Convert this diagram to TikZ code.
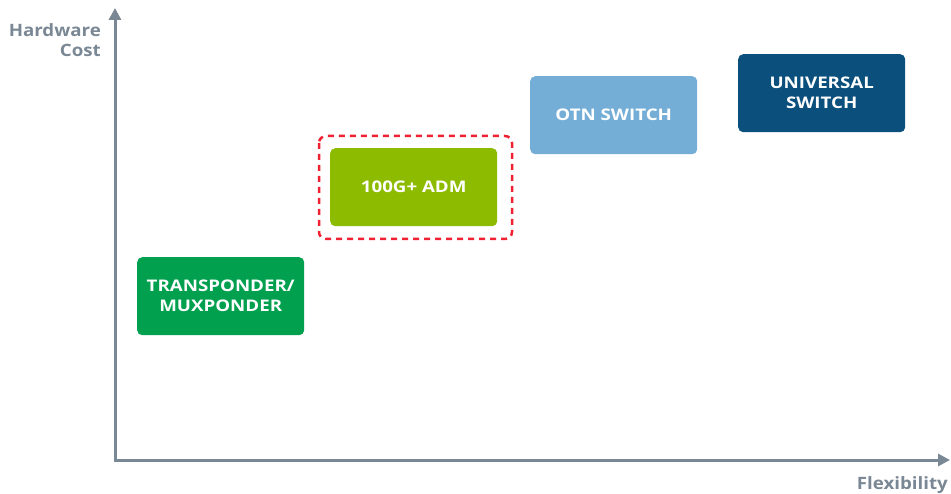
\documentclass[tikz,border=0pt]{standalone}
\usepackage{fontspec}
\setmainfont{Open Sans}[BoldFont={* Bold}]
\newfontfamily\boxfont{Open Sans}[UprightFont={* Bold}, FakeStretch=1.17]
\newfontfamily\axfont{Open Sans}[UprightFont={* Bold}, FakeStretch=1.1]
\usetikzlibrary{arrows.meta}
\definecolor{axisgray}{HTML}{7A8794}
\definecolor{cgreen}{HTML}{00A04F}
\definecolor{clime}{HTML}{8CBB00}
\definecolor{clight}{HTML}{74AED6}
\definecolor{cnavy}{HTML}{0B4F7C}
\definecolor{cred}{HTML}{EE2233}
\tikzset{
  box/.style={rounded corners=5pt, minimum width=167pt, minimum height=78pt, inner sep=0pt,
    text=white, font=\boxfont\fontsize{16}{20}\selectfont, align=center, anchor=north west},
  axis/.style={draw=axisgray, line width=3pt, -{Triangle[length=12pt,width=12pt]}},
  axlabel/.style={text=axisgray, font=\axfont\fontsize{17}{20.5}\selectfont, inner sep=0pt}
}
\begin{document}
\begin{tikzpicture}[x=1pt,y=-1pt]
\useasboundingbox (0,0) rectangle (951,494);
\coordinate (o) at (115,460);
\coordinate (ytip) at (115,8);
\coordinate (xtip) at (950,460);
\draw[axis] ([yshift=-1.5pt]o) -- (ytip);
\draw[axis] ([xshift=-1.5pt]o) -- (xtip);
\node[axlabel, align=right, anchor=north east] (ylab) at (101,23) {Hardware\\Cost};
\node[axlabel, anchor=north east] (xlab) at (948,476) {Flexibility};
\node[box, fill=cgreen] (tp) at (137,257) {TRANSPONDER/\\MUXPONDER};
\node[box, fill=clime] (adm) at (330,148) {100G+ ADM};
\node[box, fill=clight] (otn) at (530,76) {OTN SWITCH};
\node[box, fill=cnavy] (us) at (738,54) {UNIVERSAL\\SWITCH};
\draw[cred, line width=2.5pt, dash pattern=on 6pt off 5pt, rounded corners=7pt]
  (319,136) rectangle (512,239);
\end{tikzpicture}
\end{document}
